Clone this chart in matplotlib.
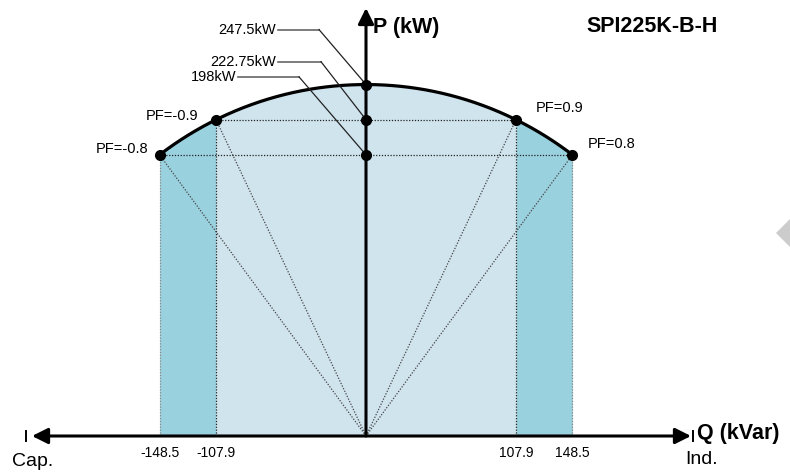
import numpy as np
import matplotlib.pyplot as plt
from matplotlib.patches import Polygon

plt.rcParams['font.family'] = ['Liberation Sans', 'DejaVu Sans']

# data
R = 247.5
q_points = [-148.5, -107.9, 107.9, 148.5]
p_points = [198, 222.75, 222.75, 198]
pf_labels = ['PF=-0.8', 'PF=-0.9', 'PF=0.9', 'PF=0.8']
p_values = [247.5, 222.75, 198]
p_labels = ['247.5kW', '222.75kW', '198kW']
q_tick_labels = ['-148.5', '-107.9', '107.9', '148.5']

# pixel scale of the drawing (px per kW / kVar)
SX = 1.39
SY = 1.42
W, H = 790, 472
OX, OY = 366, 436  # origin in image pixels

fig = plt.figure(figsize=(W / 100, H / 100), dpi=100)
ax = fig.add_axes([0, 0, 1, 1])
ax.set_xlim(-OX / SX, (W - OX) / SX)
ax.set_ylim(-(H - OY) / SY, OY / SY)
ax.axis('off')


def arc(x):
	return np.sqrt(R ** 2 - np.asarray(x) ** 2)


# filled areas
xs = np.linspace(q_points[1], q_points[2], 300)
ax.fill_between(xs, 0, arc(xs), color='#d0e4ee', lw=0, zorder=1)
for a, b in [(q_points[0], q_points[1]), (q_points[2], q_points[3])]:
	xs = np.linspace(a, b, 100)
	ax.fill_between(xs, 0, arc(xs), color='#9ad1de', lw=0, zorder=1)

# dotted construction lines
dot = (0, (1, 1.3))
for q, p in zip(q_points, p_points):
	ax.plot([0, q], [0, p], color='#444444', lw=0.9, ls=dot, zorder=2)
	vcol = '#888888' if abs(q) > 120 else '#222222'
	ax.plot([q, q], [0, p], color=vcol, lw=0.9, ls=dot, zorder=2)
ax.plot([q_points[0], q_points[3]], [p_points[0]] * 2, color='#222222', lw=0.9, ls=dot, zorder=2)
ax.plot([q_points[1], q_points[2]], [p_points[1]] * 2, color='#222222', lw=0.9, ls=dot, zorder=2)

# capability arc
xs = np.linspace(q_points[0], q_points[3], 400)
ax.plot(xs, arc(xs), color='k', lw=2.3, zorder=3, solid_capstyle='round')

# axes arrows
p_top = (OY - 8) / SY
q_left = (32 - OX) / SX
q_right = (691 - OX) / SX
head = 'head_length=0.5,head_width=0.25'
ax.annotate('', xy=(0, p_top), xytext=(0, 0),
	arrowprops=dict(arrowstyle='-|>,' + head, mutation_scale=19, lw=2.2,
		color='k', shrinkA=0, shrinkB=0), zorder=4)
ax.annotate('', xy=(q_right, 0), xytext=(q_left, 0),
	arrowprops=dict(arrowstyle='<|-|>,' + head, mutation_scale=19, lw=2.2,
		color='k', shrinkA=0, shrinkB=0), zorder=4)
for qx in [(26 - OX) / SX, (693 - OX) / SX]:
	ax.plot([qx, qx], [-3.5, 3.5], color='k', lw=1.4, zorder=4)

# points
ax.plot(q_points, p_points, 'o', color='k', ms=7, zorder=5)
ax.plot([0] * len(p_values), p_values, 'o', color='k', ms=7, zorder=5)

# PF labels
pf_offsets = [(-11, 6, 'right'), (-18, 4, 'right'), (20, 12, 'left'), (15, 11, 'left')]
for q, p, lab, (dx, dy, ha) in zip(q_points, p_points, pf_labels, pf_offsets):
	ax.annotate(lab, xy=(q, p), xytext=(dx, dy), textcoords='offset pixels',
		ha=ha, va='center', fontsize=10.5)

# leader lines for P values
leaders = [(-47, 55, 41), (-45, 58, 43), (-67, 78, 61)]
for p, lab, (dx, dy, length) in zip(p_values, p_labels, leaders):
	kx, ky = dx / SX, p + dy / SY
	sx = kx - length / SX
	ax.plot([sx, kx], [ky, ky], color='#666666', lw=1.2, zorder=3)
	ax.plot([kx, 0], [ky, p], color='#222222', lw=0.9, zorder=3)
	ax.text(sx - 2 / SX, ky, lab, ha='right', va='center', fontsize=10.5)

# Q tick labels
for q, lab in zip(q_points, q_tick_labels):
	ax.text(q, -17 / SY, lab, ha='center', va='center', fontsize=10)

# titles and axis names
fig.text(373 / W, 1 - 28 / H, 'P (kW)', ha='left', va='center', fontsize=15.5, fontweight='bold')
fig.text(586 / W, 1 - 26 / H, 'SPI225K-B-H', ha='left', va='center', fontsize=15.5, fontweight='bold')
fig.text(697 / W, 1 - 434 / H, 'Q (kVar)', ha='left', va='center', fontsize=15.5, fontweight='bold')
fig.text(685 / W, 1 - 459 / H, 'Ind.', ha='left', va='center', fontsize=14)
fig.text(12 / W, 1 - 462 / H, 'Cap.', ha='left', va='center', fontsize=14)

# grey decorative diamond at the right edge
diamond = [(776, 233), (800, 209), (824, 233), (800, 257)]
fig.patches.append(Polygon([(x / W, 1 - y / H) for x, y in diamond],
	closed=True, transform=fig.transFigure, color='#cccccc', lw=0))

fig.savefig('out.png', dpi=100)
